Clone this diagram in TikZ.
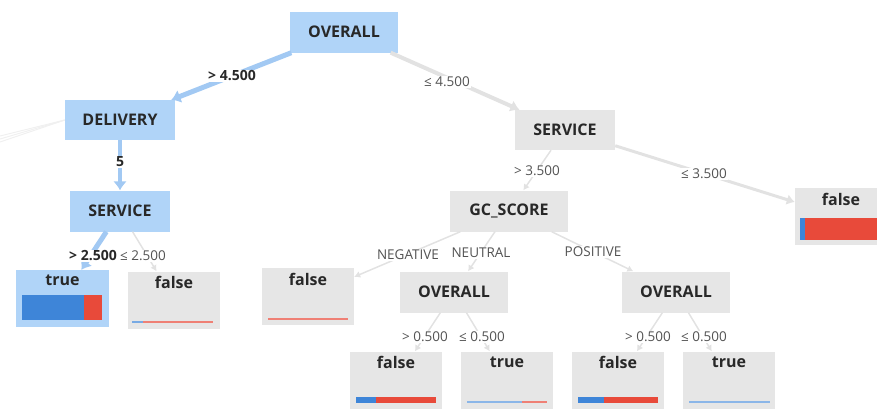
\documentclass[tikz,border=0pt]{standalone}
\usepackage{fontspec}
\setmainfont{Open Sans}
\usepackage{tikz}
\usetikzlibrary{calc,arrows.meta}
\definecolor{pathblue}{RGB}{176,212,248}
\definecolor{edgeblue}{RGB}{162,201,243}
\definecolor{boxgray}{RGB}{230,230,230}
\definecolor{edgegray}{RGB}{226,226,226}
\definecolor{barblue}{RGB}{62,133,216}
\definecolor{barred}{RGB}{232,74,58}
\definecolor{ink}{RGB}{40,40,40}
\tikzset{
  splitbox/.style={fill=boxgray, minimum width=108pt, minimum height=41pt, inner sep=0pt,
    font=\fontsize{16}{18}\selectfont\bfseries, text=ink},
  hot/.style={fill=pathblue},
  leafbox/.style={fill=boxgray, minimum width=92pt, minimum height=57pt, inner sep=0pt},
  leaftitle/.style={font=\fontsize{16}{18}\selectfont\bfseries, text=ink, inner sep=2pt, yshift=-3pt},
  cut/.style={font=\fontsize{13.5}{15}\selectfont, text=ink!80, fill=white, inner sep=1pt},
  hotcut/.style={cut, font=\fontsize{14}{15}\selectfont\bfseries, text=ink},
  onpath/.style={draw=edgeblue, line width=5pt, -{Latex[length=9pt,width=14pt]}},
  offpath/.style={draw=edgegray, line width=1.5pt, -{Latex[length=6pt,width=7pt]}},
}

\begin{document}
\begin{tikzpicture}[x=1pt, y=-1pt]
    \useasboundingbox (0,0) rectangle (877,408);
    \clip (0,0) rectangle (877,408);
    % split nodes
    \node[splitbox, hot] (root) at (344,32) {OVERALL};
    \node[splitbox, hot, minimum width=110pt, minimum height=40pt] (deliv) at (120,120) {DELIVERY};
    \node[splitbox, hot, minimum width=100pt] (svcL) at (120,211) {SERVICE};
    \node[splitbox, minimum width=100pt, minimum height=40pt] (svcR) at (565,130) {SERVICE};
    \node[splitbox, minimum width=118pt] (gc) at (509,211) {GC\_SCORE};
    \node[splitbox] (ovN) at (454,292) {OVERALL};
    \node[splitbox] (ovP) at (676,292) {OVERALL};
    % leaves
    \node[leafbox, hot, minimum width=93pt] (tL) at (62.5,298.5) {};
    \node[leaftitle] at (tL.north) [anchor=north] {true};
    \node[leafbox] (fL) at (174,300) {};
    \node[leaftitle] at (fL.north) [anchor=north] {false};
    \node[leafbox] (fN) at (308,296.5) {};
    \node[leaftitle] at (fN.north) [anchor=north] {false};
    \node[leafbox] (fR) at (841,216.5) {};
    \node[leaftitle] at (fR.north) [anchor=north] {false};
    \node[leafbox] (f1) at (396,380) {};
    \node[leaftitle] at (f1.north) [anchor=north] {false};
    \node[leafbox] (t2) at (507,380) {};
    \node[leaftitle] at (t2.north) [anchor=north] {true};
    \node[leafbox] (f3) at (618,380) {};
    \node[leaftitle] at (f3.north) [anchor=north] {false};
    \node[leafbox] (t4) at (729,380) {};
    \node[leaftitle] at (t4.north) [anchor=north] {true};
    % class bars
    \fill[barblue] (22,295) rectangle (84,320);
    \fill[barred] (84,295) rectangle (102,320);
    \fill[barblue!70] (132,320.5) rectangle (143,322.5);
    \fill[barred!70] (143,320.5) rectangle (213,322.5);
    \fill[barred!70] (268,317.5) rectangle (348,319.5);
    \fill[barblue] (800,218) rectangle (805,240);
    \fill[barred] (805,218) rectangle (877,240);
    \fill[barblue] (356,397) rectangle (376,403);
    \fill[barred] (376,397) rectangle (436,403);
    \fill[barblue!60] (467,400.5) rectangle (522,402.5);
    \fill[barred!70] (522,400.5) rectangle (547,402.5);
    \fill[barblue] (578,397) rectangle (604,403);
    \fill[barred] (604,397) rectangle (658,403);
    \fill[barblue!60] (689,400.5) rectangle (770,402.5);
    % edges leaving the view
    \coordinate (away1) at (0,136);
    \coordinate (away2) at (0,139);
    \coordinate (away3) at (0,142);
    \draw[edgegray!50, line width=1pt] (deliv.west) -- (away1);
    \draw[edgegray!50, line width=1pt] (deliv.west) -- (away2);
    \draw[edgegray!50, line width=1pt] (deliv.west) -- (away3);
    % edges
    \draw[onpath] (root) -- (deliv);
    \draw[onpath, line width=4pt] (deliv) -- (svcL);
    \draw[onpath] (svcL) -- (tL);
    \draw[offpath] (svcL) -- (fL);
    \draw[offpath, line width=4pt, -{Latex[length=9pt,width=12pt]}] (root) -- (svcR);
    \draw[offpath] (svcR) -- (gc);
    \draw[offpath, line width=3pt, -{Latex[length=8pt,width=11pt]}] (svcR) -- (fR);
    \draw[offpath] (gc) -- (fN);
    \draw[offpath] (gc) -- (ovN);
    \draw[offpath] (gc) -- (ovP);
    \draw[offpath] (ovN) -- (f1);
    \draw[offpath] (ovN) -- (t2);
    \draw[offpath] (ovP) -- (f3);
    \draw[offpath] (ovP) -- (t4);
    % edge labels
    \node[hotcut] (c1) at (232,76) {> 4.500};
    \node[cut] (c2) at (447,82) {≤ 4.500};
    \node[hotcut] (c3) at (120,162) {5};
    \node[hotcut, anchor=east] (c4) at (118,256) {> 2.500};
    \node[cut, anchor=west] (c5) at (119,256) {≤ 2.500};
    \node[cut] (c6) at (537,171) {> 3.500};
    \node[cut] (c7) at (704,174) {≤ 3.500};
    \node[cut] (c8) at (408,255) {NEGATIVE};
    \node[cut] (c9) at (481,253) {NEUTRAL};
    \node[cut] (c10) at (593,252) {POSITIVE};
    \node[cut] (c11) at (425,337) {> 0.500};
    \node[cut] (c12) at (482,337) {≤ 0.500};
    \node[cut] (c13) at (648,337) {> 0.500};
    \node[cut] (c14) at (704,337) {≤ 0.500};
\end{tikzpicture}
\end{document}
